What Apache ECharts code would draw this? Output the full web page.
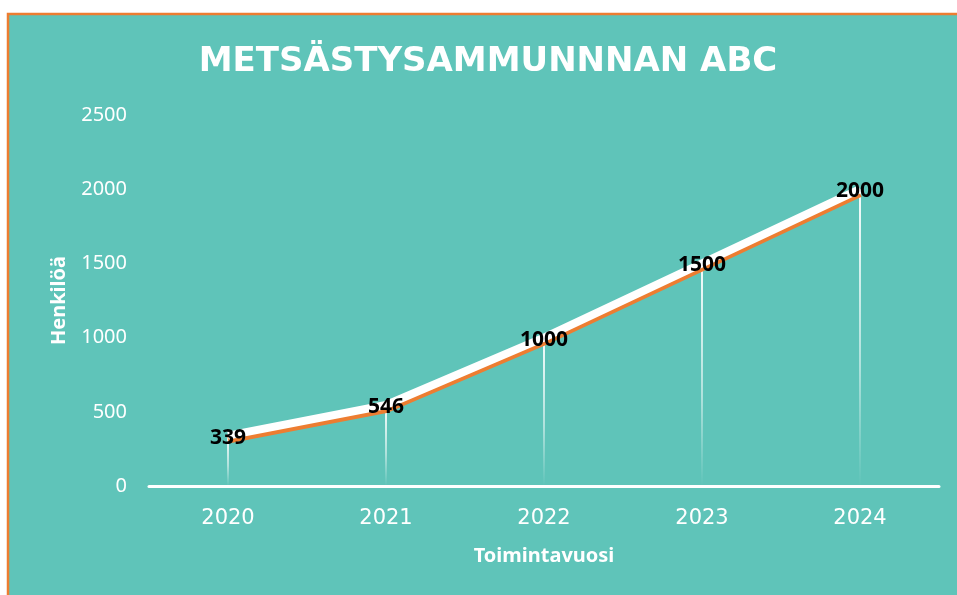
<!DOCTYPE html>
<html>
<head>
<meta charset="utf-8">
<script src="https://cdn.jsdelivr.net/npm/echarts@6/dist/echarts.min.js"></script>
<style>
html,body{margin:0;padding:0;background:#fff;}
#chart{width:957px;height:595px;}
</style>
</head>
<body>
<div id="chart"></div>
<script>
const titleText = 'METSÄSTYSAMMUNNNAN ABC';
const categories = ['2020', '2021', '2022', '2023', '2024'];
const values = [339, 546, 1000, 1500, 2000];
const yTicks = [0, 500, 1000, 1500, 2000, 2500];
const xName = 'Toimintavuosi';
const yName = 'Henkilöä';

const chart = echarts.init(document.getElementById('chart'), null, {renderer: 'canvas'});
const option = {
  backgroundColor: '#ffffff',
  animation: false,
  graphic: [
    {type: 'rect', z: -10, shape: {x: 8, y: 14, width: 970, height: 600},
     style: {fill: '#5fc4b9', stroke: '#ed7d31', lineWidth: 2.5}},
    {type: 'text', z: 10, x: 488, y: 62,
     style: {text: titleText, fill: '#ffffff', font: 'bold 34px "DejaVu Sans"',
             textAlign: 'center', textVerticalAlign: 'middle'}}
  ],
  grid: {left: 149, right: 18, top: 115, bottom: 109, containLabel: false},
  xAxis: {
    type: 'category', data: categories,
    axisLine: {show: true, lineStyle: {color: '#ffffff', width: 3}},
    axisTick: {show: false},
    axisLabel: {color: '#ffffff', fontFamily: 'DejaVu Sans', fontSize: 21, margin: 22},
    splitLine: {show: false},
    name: xName, nameLocation: 'middle', nameGap: 60,
    nameTextStyle: {color: '#ffffff', fontFamily: 'Noto Sans', fontWeight: 'bold', fontSize: 20}
  },
  yAxis: {
    type: 'value', min: yTicks[0], max: yTicks[yTicks.length - 1], interval: yTicks[1] - yTicks[0],
    axisLine: {show: false}, axisTick: {show: false}, splitLine: {show: false},
    axisLabel: {color: '#ffffff', fontFamily: 'Noto Sans', fontSize: 20, margin: 22,
                formatter: function (v) { return String(v); }},
    name: yName, nameLocation: 'middle', nameGap: 80, nameRotate: 90,
    nameTextStyle: {color: '#ffffff', fontFamily: 'Noto Sans', fontWeight: 'bold', fontSize: 20}
  },
  series: [
    {
      type: 'bar', data: values, barWidth: 2, z: 1,
      itemStyle: {color: new echarts.graphic.LinearGradient(0, 0, 0, 1, [
        {offset: 0, color: 'rgba(255,255,255,0.95)'},
        {offset: 0.6, color: 'rgba(255,255,255,0.5)'},
        {offset: 1, color: 'rgba(255,255,255,0.0)'}
      ])},
      silent: true
    },
    {
      type: 'line', data: values, z: 3,
      symbol: 'circle', symbolSize: 1, showSymbol: true,
      itemStyle: {color: 'rgba(255,255,255,0)'},
      lineStyle: {color: '#ffffff', width: 8, shadowColor: '#ed7d31', shadowOffsetY: 4, shadowBlur: 0, join: 'round'},
      label: {show: true, position: 'inside', offset: [0, 2], color: '#000000',
              fontFamily: 'Noto Sans', fontWeight: 'bold', fontSize: 21}
    }
  ]
};
chart.setOption(option);
</script>
</body>
</html>
